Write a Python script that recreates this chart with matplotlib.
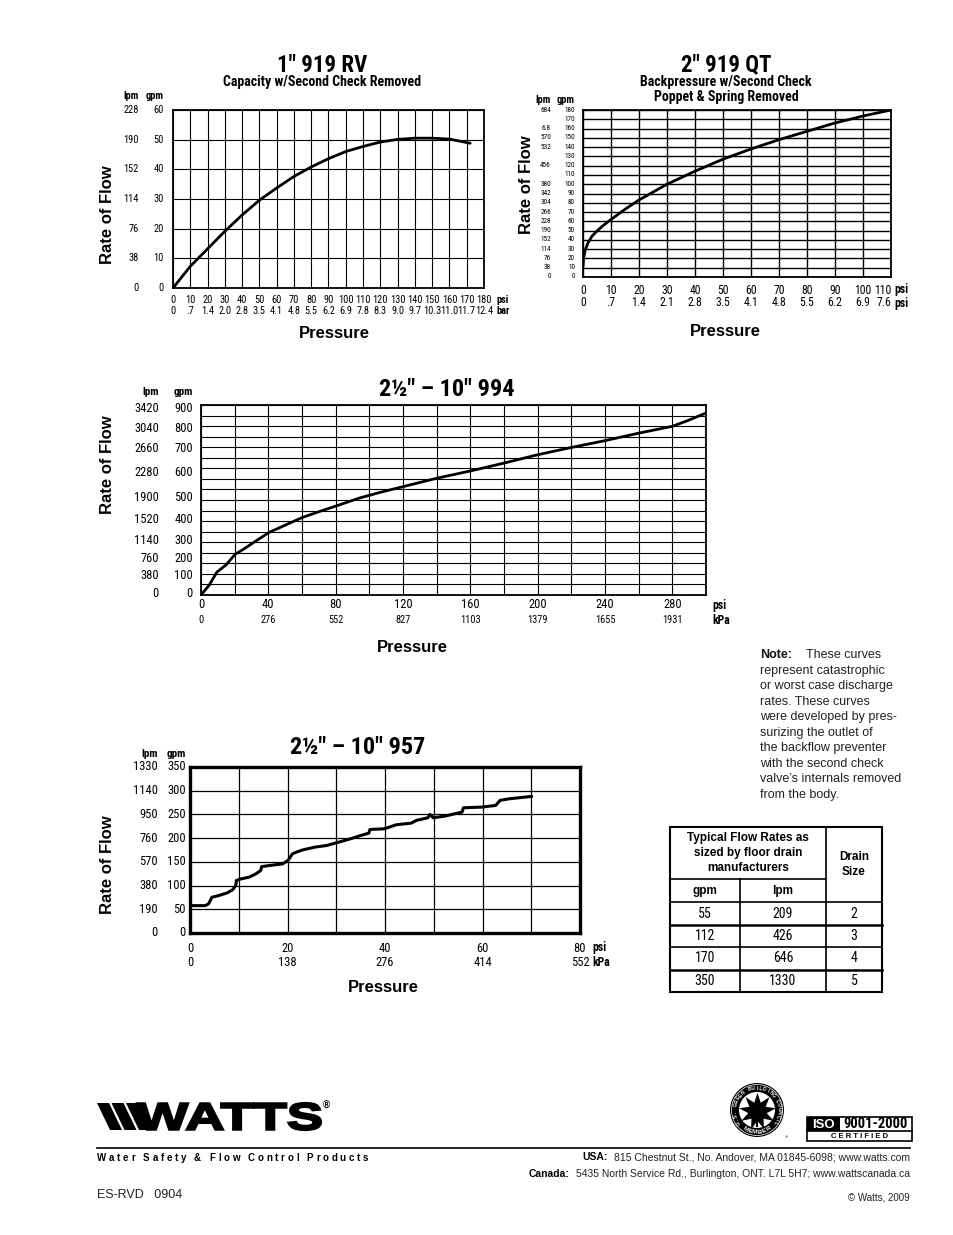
import numpy as np
import matplotlib
matplotlib.use('Agg')
import matplotlib.pyplot as plt
from matplotlib import font_manager, transforms
from matplotlib.font_manager import FontProperties
from matplotlib.patches import Rectangle, Circle, Polygon, PathPatch
from matplotlib.textpath import TextPath
from matplotlib.transforms import Affine2D

W, H = 954, 1235

_fonts = font_manager.fontManager.ttflist
_have = {f.name for f in _fonts}
SANS = 'Liberation Sans' if 'Liberation Sans' in _have else 'DejaVu Sans'
NARROW = {'family': SANS}
for _n in ['Liberation Sans Narrow', 'Arial Narrow', 'Nimbus Sans Narrow', 'Roboto Condensed',
           'Open Sans Condensed', 'Noto Sans Condensed', 'DejaVu Sans Condensed']:
    if _n in _have:
        NARROW = {'family': _n}
        break
else:
    for _f in _fonts:
        if 'condensed' in str(_f.stretch):
            NARROW = {'family': _f.name, 'fontstretch': _f.stretch}
            break
plt.rcParams['font.family'] = SANS

# ---- 1" 919 RV : capacity w/ second check removed
rv_psi = [0, 10, 20, 30, 40, 50, 60, 70, 80, 90, 100, 110, 120, 130, 140, 150, 160, 172]
rv_gpm = [0, 7.3, 13.2, 19.1, 24.6, 29.6, 33.7, 37.6, 40.8, 43.6, 46.0, 47.7, 49.2, 50.1, 50.5, 50.5, 50.2, 48.8]
rv_psi_ticks = list(range(0, 181, 10))
rv_bar_labels = ['0', '.7', '1.4', '2.0', '2.8', '3.5', '4.1', '4.8', '5.5', '6.2', '6.9',
                 '7.8', '8.3', '9.0', '9.7', '10.3', '11.0', '11.7', '12.4']
rv_gpm_ticks = [0, 10, 20, 30, 40, 50, 60]
rv_lpm_labels = ['0', '38', '76', '114', '152', '190', '228']

# ---- 2" 919 QT : backpressure
qt_psi = [0, 0.2, 0.8, 1.8, 3.2, 4.8, 7, 10, 15, 20, 30, 40, 50, 60, 70, 80, 90, 100, 110]
qt_gpm = [11, 20, 29, 37, 44, 49, 55, 62, 73, 83, 100, 114, 127, 138, 148, 157, 166, 173.5, 180]
qt_psi_ticks = list(range(0, 111, 10))
qt_bar_labels = ['0', '.7', '1.4', '2.1', '2.8', '3.5', '4.1', '4.8', '5.5', '6.2', '6.9', '7.6']
qt_gpm_ticks = list(range(180, -1, -10))
qt_lpm_labels = ['684', '', '6.8', '570', '532', '', '456', '', '380', '342', '304', '266',
                 '228', '190', '152', '114', '76', '38', '0']

# ---- 2 1/2" - 10" 994
d994_psi = [0, 4.9, 9.4, 14.8, 20.3, 24.7, 32.1, 40.3, 49.5, 60.1, 71.7, 80.4, 94, 106.3,
            120.4, 140.5, 160.3, 180.1, 199.8, 220.1, 239.9, 260.2, 280, 289.4, 300]
d994_gpm = [0, 47, 108, 142, 193, 214, 253, 296, 329, 367, 399, 422, 459, 486,
            514, 554, 588, 625, 664, 699, 731, 767, 799, 827, 862]
d994_psi_ticks = list(range(0, 281, 40))
d994_kpa_labels = ['0', '276', '552', '827', '1103', '1379', '1655', '1931']
d994_gpm_labels = ['900', '800', '700', '600', '500', '400', '300', '200', '100', '0']
d994_lpm_labels = ['3420', '3040', '2660', '2280', '1900', '1520', '1140', '760', '380', '0']
d994_label_pos = [885, 790, 692, 582, 463, 357, 257, 174, 92, 8]

# ---- 2 1/2" - 10" 957
d957_psi = [0.1, 3.1, 3.8, 4.5, 5.9, 7.6, 8.7, 9.4, 9.5, 10.4, 12.1, 13.5, 14.5, 14.7, 16.3,
            19.0, 20.1, 21.0, 21.8, 23.2, 25.6, 28.0, 30.5, 32.9, 35.0, 36.7, 36.9, 39.8,
            40.9, 42.3, 45.4, 46.4, 48.8, 49.2, 49.9, 52.3, 55.8, 56.1, 59.9, 62.7, 63.6,
            65.5, 70.1]
d957_gpm = [57.7, 57.7, 61.3, 75.4, 78.9, 84.5, 90.8, 100, 110.6, 114, 117.6, 124.6, 131.7,
            140, 142.3, 145.8, 152.8, 166.9, 170.4, 175.4, 181, 184.5, 191.5, 198.6, 205.6,
            210.6, 218.3, 219.7, 223.3, 228.2, 231.7, 237.3, 243, 250, 243, 246.5, 255, 264,
            265.5, 269, 279.6, 283, 288]
d957_psi_ticks = [0, 20, 40, 60, 80]
d957_kpa_labels = ['0', '138', '276', '414', '552']
d957_gpm_ticks = [350, 300, 250, 200, 150, 100, 50, 0]
d957_lpm_labels = ['1330', '1140', '950', '760', '570', '380', '190', '0']

# ---- floor drain table
drain_gpm = [55, 112, 170, 350]
drain_lpm = [209, 426, 646, 1330]
drain_size = [2, 3, 4, 5]

note_lines = ['represent catastrophic', 'or worst case discharge', 'rates. These curves',
              'were developed by pres-', 'surizing the outlet of', 'the backflow preventer',
              'with the second check', 'valve\u2019s internals removed', 'from the body.']

fig = plt.figure(figsize=(W / 100, H / 100), dpi=100)
page = fig.add_axes([0, 0, 1, 1])
page.set_xlim(0, W)
page.set_ylim(H, 0)
page.axis('off')


def ptext(x, y, s, size, weight='normal', narrow=False, ha='center', **kw):
    fk = NARROW if narrow else {'family': SANS}
    page.text(x, y, s, fontsize=size, weight=weight, ha=ha, va='center', **fk, **kw)


def advances(s, family, weight, size):
    prop = FontProperties(family=family, weight=weight, size=size)
    try:
        from matplotlib.ft2font import FT2Font
        ft = FT2Font(font_manager.findfont(prop))
        ft.set_size(size, 100)
        return [ft.load_char(ord(c)).linearHoriAdvance / 65536 for c in s]
    except Exception:
        return [0.55 * size * 100 / 72] * len(s)


def make_chart(l, t, r, b, xmax, ymax, xstep, ystep, spine_lw=1.3, grid_lw=0.8):
    ax = fig.add_axes([l / W, 1 - b / H, (r - l) / W, (b - t) / H])
    ax.set_xlim(0, xmax)
    ax.set_ylim(0, ymax)
    ax.set_xticks(np.arange(0, xmax + 1e-9, xstep))
    ax.set_yticks(np.arange(0, ymax + 1e-9, ystep))
    ax.grid(True, color='black', lw=grid_lw)
    ax.tick_params(length=0, labelbottom=False, labelleft=False)
    for sp in ax.spines.values():
        sp.set_linewidth(spine_lw)
    return ax


def y_labels(ax, pos, labels, x_right, size):
    tr = transforms.blended_transform_factory(page.transData, ax.transData)
    for p, s in zip(pos, labels):
        ax.text(x_right, p, s, transform=tr, ha='right', va='center', fontsize=size, **NARROW)


def x_labels(ax, pos, labels, y, size, has=None):
    tr = transforms.blended_transform_factory(ax.transData, page.transData)
    for i, (p, s) in enumerate(zip(pos, labels)):
        ha = has[i] if has else 'center'
        ax.text(p, y, s, transform=tr, ha=ha, va='center', fontsize=size, **NARROW)


def curve(ax, x, y, lw=2.0):
    ax.plot(x, y, color='black', lw=lw, solid_capstyle='round', solid_joinstyle='round')


def rate_pressure(x_rate, y_rate, x_press, y_press):
    ptext(x_rate, y_rate, 'Rate of Flow', 12, 'bold', rotation=90)
    ptext(x_press, y_press, 'Pressure', 12, 'bold')


# ---------------- chart 1
ax1 = make_chart(173, 110, 484, 288, 180, 60, 10, 10)
curve(ax1, rv_psi, rv_gpm)
ptext(322, 65, '1" 919 RV', 16.5, 'bold', True)
ptext(322, 82, 'Capacity w/Second Check Removed', 10, 'bold', True)
ptext(139, 96, 'lpm', 7.5, 'bold', True, ha='right')
ptext(164, 96, 'gpm', 7.5, 'bold', True, ha='right')
y_labels(ax1, rv_gpm_ticks, rv_lpm_labels, 139, 7.5)
y_labels(ax1, rv_gpm_ticks, [str(v) for v in rv_gpm_ticks], 164, 7.5)
x_labels(ax1, rv_psi_ticks, [str(v) for v in rv_psi_ticks], 300, 7.5)
x_labels(ax1, rv_psi_ticks, rv_bar_labels, 311, 7.5)
ptext(497, 300, 'psi', 7.5, 'bold', True, ha='left')
ptext(497, 311, 'bar', 7.5, 'bold', True, ha='left')
rate_pressure(108, 215, 334, 333)

# ---------------- chart 2
ax2 = make_chart(583, 110, 891, 277, 110, 180, 10, 10, grid_lw=1.0)
curve(ax2, qt_psi, qt_gpm)
ptext(726, 65, '2" 919 QT', 16.5, 'bold', True)
ptext(726, 82, 'Backpressure w/Second Check', 10, 'bold', True)
ptext(726, 97, 'Poppet & Spring Removed', 10, 'bold', True)
ptext(551, 100, 'lpm', 7.5, 'bold', True, ha='right')
ptext(575, 100, 'gpm', 7.5, 'bold', True, ha='right')
y_labels(ax2, qt_gpm_ticks, qt_lpm_labels, 551, 5.2)
y_labels(ax2, qt_gpm_ticks, [str(v) for v in qt_gpm_ticks], 575, 5.2)
has2 = ['center'] * (len(qt_psi_ticks) - 1) + ['right']
x_labels(ax2, qt_psi_ticks, [str(v) for v in qt_psi_ticks], 290, 8.5, has2)
x_labels(ax2, qt_psi_ticks, qt_bar_labels, 303, 8.5, has2)
ptext(894, 290, 'psi', 8.5, 'bold', True, ha='left')
ptext(894, 303, 'psi', 8.5, 'bold', True, ha='left')
rate_pressure(527, 185, 725, 331)

# ---------------- chart 3
ax3 = make_chart(201, 405, 706, 595, 300, 900, 20, 50)
curve(ax3, d994_psi, d994_gpm)
ptext(447, 389, '2\u00bd" \u2013 10" 994', 17.5, 'bold', True)
ptext(159, 392, 'lpm', 8, 'bold', True, ha='right')
ptext(193, 392, 'gpm', 8, 'bold', True, ha='right')
y_labels(ax3, d994_label_pos, d994_lpm_labels, 159, 9)
y_labels(ax3, d994_label_pos, d994_gpm_labels, 193, 9)
x_labels(ax3, d994_psi_ticks, [str(v) for v in d994_psi_ticks], 605, 9)
x_labels(ax3, d994_psi_ticks, d994_kpa_labels, 620, 7.5)
ptext(712, 605, 'psi', 8.5, 'bold', True, ha='left')
ptext(712, 620, 'kPa', 8.5, 'bold', True, ha='left')
rate_pressure(108, 465, 412, 648)

# ---------------- chart 4
ax4 = make_chart(190, 767, 580, 933, 80, 350, 10, 50, spine_lw=2.4, grid_lw=0.9)
curve(ax4, d957_psi, d957_gpm, lw=2.2)
ptext(358, 748, '2\u00bd" \u2013 10" 957', 17.5, 'bold', True)
ptext(158, 754, 'lpm', 8, 'bold', True, ha='right')
ptext(186, 754, 'gpm', 8, 'bold', True, ha='right')
y_labels(ax4, d957_gpm_ticks, d957_lpm_labels, 158, 9)
y_labels(ax4, d957_gpm_ticks, [str(v) for v in d957_gpm_ticks], 186, 9)
x_labels(ax4, d957_psi_ticks, [str(v) for v in d957_psi_ticks], 948, 9)
x_labels(ax4, d957_psi_ticks, d957_kpa_labels, 962, 9)
ptext(592, 948, 'psi', 8.5, 'bold', True, ha='left')
ptext(592, 962, 'kPa', 8.5, 'bold', True, ha='left')
rate_pressure(108, 865, 383, 988)

# ---------------- note
ptext(760, 655, 'Note:', 9, 'bold', ha='left', color='#111111')
ptext(806, 655, 'These curves', 9, ha='left', color='#222222')
for i, line in enumerate(note_lines):
    ptext(760, 655 + (i + 1) * 15.55, line, 9, ha='left', color='#222222')

# ---------------- table
tl, tr_, tt, tb = 670, 882, 827, 992
c1, c2 = 740, 826
row_lines = [902, 925, 947, 970]
page.add_patch(Rectangle((tl, tt), tr_ - tl, tb - tt, fill=False, lw=1.5, ec='black'))
page.plot([c2, c2], [tt, tb], color='black', lw=1.2)
page.plot([c1, c1], [879, tb], color='black', lw=1.2)
page.plot([tl, c2], [879, 879], color='black', lw=1.2)
for k, yl in enumerate(row_lines):
    page.plot([tl, tr_], [yl, yl], color='black', lw=1.8 if k in (1, 3) else 1.2)
ptext(748, 838, 'Typical Flow Rates as', 8.5, 'bold')
ptext(748, 853, 'sized by floor drain', 8.5, 'bold')
ptext(748, 868, 'manufacturers', 8.5, 'bold')
ptext(854, 857, 'Drain', 8.5, 'bold')
ptext(854, 872, 'Size', 8.5, 'bold')
ptext(705, 891, 'gpm', 8.5, 'bold')
ptext(783, 891, 'lpm', 8.5, 'bold')
for i, (g, lp, sz) in enumerate(zip(drain_gpm, drain_lpm, drain_size)):
    yy = 913.5 + i * 22.5
    ptext(705, yy, str(g), 10, narrow=True)
    ptext(783, yy, str(lp), 10, narrow=True)
    ptext(854, yy, str(sz), 10, narrow=True)

# ---------------- footer
for i in range(3):
    x0 = 97 + i * 14.5
    page.add_patch(Polygon([(x0, 1103), (x0 + 12, 1103), (x0 + 25, 1130), (x0 + 13, 1130)],
                           closed=True, color='black', lw=0))
logo_prop = FontProperties(family=SANS, weight='bold')
tp = TextPath((0, 0), 'WATTS', size=1, prop=logo_prop)
ext = tp.get_extents()
sx = (321 - 137) / ext.width
sy = (1130 - 1103) / ext.height
tf = Affine2D().translate(-ext.x0, -ext.y0).scale(sx, -sy).translate(137, 1130)
page.add_patch(PathPatch(tf.transform_path(tp), fc='black', ec='black', lw=1.6))
ptext(326, 1106, '\u00ae', 7, 'bold')
page.plot([97, 910], [1148, 1148], color='black', lw=1.2)

tag = 'Water Safety & Flow Control Products'
adv = advances(tag, SANS, 'bold', 7)
gap = (271 - sum(adv)) / (len(tag) - 1)
xx = 97
for c, a in zip(tag, adv):
    page.text(xx, 1158, c, fontsize=7, weight='bold', family=SANS, ha='left', va='center')
    xx += a + gap

usa = '815 Chestnut St., No. Andover, MA 01845-6098; www.watts.com'
can = '5435 North Service Rd., Burlington, ONT. L7L 5H7; www.wattscanada.ca'
for lab, txt, yy in (('USA:', usa, 1157), ('Canada:', can, 1174)):
    w = sum(advances(txt, SANS, 'normal', 7.5))
    ptext(910, yy, txt, 7.5, ha='right', color='#222222')
    ptext(910 - w - 4, yy, lab, 7.5, 'bold', ha='right')
ptext(97, 1195, 'ES-RVD   0904', 9, ha='left', color='#222222')
ptext(910, 1197, '\u00a9 Watts, 2009', 7, ha='right', color='#222222')

# USGBC member seal
cx, cy = 757, 1110
page.add_patch(Circle((cx, cy), 27, color='black', lw=0))
page.add_patch(Circle((cx, cy), 25.5, fill=False, ec='white', lw=0.5))
page.add_patch(Circle((cx, cy), 18, color='white', lw=0))
page.plot([cx], [cy + 1], marker=(9, 1, 0), ms=27, color='black', mew=0)
page.plot([cx, cx], [cy + 6, cy + 16], color='black', lw=1.5)
ring = 'U.S. GREEN BUILDING COUNCIL'
for k, ch in enumerate(ring):
    th = np.radians(215 - k * 250 / (len(ring) - 1))
    page.text(cx + 22 * np.cos(th), cy - 22 * np.sin(th), ch, fontsize=3.6, weight='bold',
              color='white', ha='center', va='center', rotation=np.degrees(th) - 90)
for k, ch in enumerate('MEMBER'):
    th = np.radians(238 + k * 64 / 5)
    page.text(cx + 22 * np.cos(th), cy - 22 * np.sin(th), ch, fontsize=4.5, weight='bold',
              color='white', ha='center', va='center', rotation=np.degrees(th) + 90)
ptext(786, 1137, '\u00ae', 3)

# ISO badge
page.add_patch(Rectangle((807, 1117), 105, 24, fill=False, ec='black', lw=1.2))
page.add_patch(Rectangle((807, 1117), 33, 14, color='black', lw=0))
page.plot([807, 912], [1131, 1131], color='black', lw=1.2)
ptext(823.5, 1124.5, 'ISO', 9.5, 'bold', color='white')
ptext(876, 1124.5, '9001-2000', 10.5, 'bold', True)
ptext(860, 1136.5, 'C E R T I F I E D', 5.5, 'bold')

fig.savefig('out.png', dpi=100, facecolor='white')
